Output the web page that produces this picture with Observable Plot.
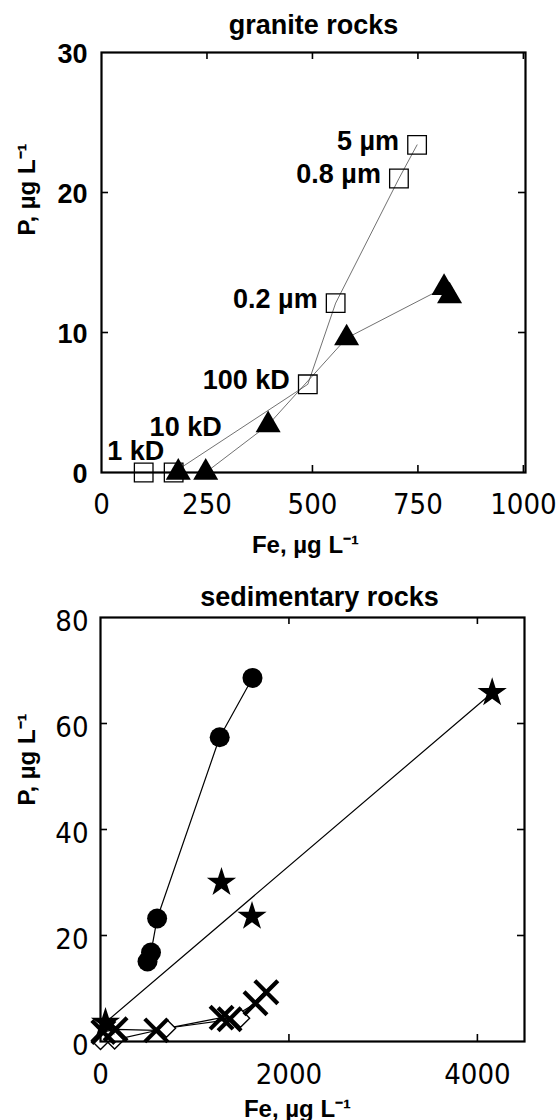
<!DOCTYPE html>
<html><head><meta charset="utf-8">
<script src="https://cdn.jsdelivr.net/npm/d3@7"></script>
<script src="https://cdn.jsdelivr.net/npm/@observablehq/plot@0.6"></script>
<style>
body{margin:0;background:#fff;}
#c{position:relative;width:560px;height:1120px;background:#fff;}
#c svg{position:absolute;left:0;}
</style></head><body><div id="c"></div>
<script>
// ---------- granite rocks ----------
const graniteSizeLabels = ["1 kD", "10 kD", "100 kD", "0.2 µm", "0.8 µm", "5 µm"];
const graniteSquareFe = [100, 171, 489, 555, 705, 748];
const graniteSquareP = [0, 0, 6.3, 12.1, 21.0, 23.4];
const graniteTriangleFe = [182, 247, 395, 581, 812, 825];
const graniteTriangleP = [0, 0, 3.4, 9.6, 13.2, 12.6];
const graniteXTicks = [0, 250, 500, 750, 1000];
const graniteYTicks = [0, 10, 20, 30];

// ---------- sedimentary rocks ----------
const sedCircleFe = [499, 536, 601, 1265, 1613];
const sedCircleP = [15.1, 16.8, 23.2, 57.4, 68.6];
const sedStarFe = [53, 1284, 1608, 4157];
const sedStarP = [3.6, 30.0, 23.6, 65.8];
const sedCrossFe = [30, 160, 592, 1285, 1370, 1645, 1760];
const sedCrossP = [1.8, 2.3, 2.1, 4.5, 4.2, 7.2, 9.3];
const sedDiamondFe = [0, 150, 700, 1486];
const sedDiamondP = [0.2, 0.3, 2.5, 4.4];
const sedXTicks = [0, 2000, 4000];
const sedYTicks = [0, 20, 40, 60, 80];

const titles = ["granite rocks", "sedimentary rocks"];
const xLabel = "Fe, µg L\u207B\u00B9";
const yLabel = "P, µg L\u207B\u00B9";

const BOLD = "Liberation Sans, Arial, Helvetica, sans-serif";
const THIN = "DejaVu Sans Condensed, DejaVu Sans, Verdana, sans-serif";
const W = 560, H = 560;

const pts = (xs, ys, extra = {}) => xs.map((Fe, i) => ({Fe, P: ys[i], i, ...extra}));

function frameTicks(xd, yd, xt, yt, w, h, len = 7) {
  const kx = (xd[1] - xd[0]) / w * len;
  const ky = (yd[1] - yd[0]) / h * len;
  const xi = xt.filter(v => v > xd[0] && v < xd[1]);
  const yi = yt.filter(v => v > yd[0] && v < yd[1]);
  const s = {stroke: "black", strokeWidth: 1.6};
  return [
    Plot.ruleX(xi, {x: d => d, y1: yd[0], y2: yd[0] + ky, ...s}),
    Plot.ruleX(xi, {x: d => d, y1: yd[1], y2: yd[1] - ky, ...s}),
    Plot.ruleY(yi, {y: d => d, x1: xd[0], x2: xd[0] + kx, ...s}),
    Plot.ruleY(yi, {y: d => d, x1: xd[1], x2: xd[1] - kx, ...s})
  ];
}

// ---------- top chart ----------
const gM = {top: 52, right: 35, bottom: 88, left: 101};
const gXd = [0, 1005], gYd = [0, 30];
const gw = W - gM.left - gM.right, gh = H - gM.top - gM.bottom;
const squares = graniteSizeLabels.map((label, i) => ({label, Fe: graniteSquareFe[i], P: graniteSquareP[i], i}));
const triangles = pts(graniteTriangleFe, graniteTriangleP);

const topChart = Plot.plot({
  width: W, height: H,
  marginTop: gM.top, marginRight: gM.right, marginBottom: gM.bottom, marginLeft: gM.left,
  x: {domain: gXd, axis: null},
  y: {domain: gYd, axis: null},
  style: {background: "white", overflow: "visible"},
  marks: [
    Plot.line(squares, {x: "Fe", y: "P", stroke: "#333", strokeWidth: 0.7}),
    Plot.line(triangles, {x: "Fe", y: "P", stroke: "#333", strokeWidth: 0.7}),
    Plot.dot(squares, {x: "Fe", y: "P", symbol: "square", r: 10.5, stroke: "black", strokeWidth: 1.3, fill: "none"}),
    Plot.dot(triangles, {x: "Fe", y: "P", symbol: "triangle", r: 9.3, fill: "black", stroke: "none"}),
    Plot.frame({stroke: "black", strokeWidth: 2.2}),
    ...frameTicks(gXd, gYd, graniteXTicks, graniteYTicks, gw, gh),
    Plot.text(squares, {filter: d => d.i >= 2, x: "Fe", y: "P", text: "label", textAnchor: "end", dx: -18, dy: -4,
      fontFamily: BOLD, fontWeight: "bold", fontSize: 27, fill: "black"}),
    Plot.text(squares, {filter: d => d.i === 0, x: "Fe", y: "P", text: "label", textAnchor: "middle", dx: -8, dy: -21,
      fontFamily: BOLD, fontWeight: "bold", fontSize: 27, fill: "black"}),
    Plot.text(squares, {filter: d => d.i === 1, x: "Fe", y: "P", text: "label", textAnchor: "middle", dx: 12, dy: -45,
      fontFamily: BOLD, fontWeight: "bold", fontSize: 27, fill: "black"}),
    Plot.text(graniteXTicks, {x: d => d, text: d => String(d), frameAnchor: "bottom", lineAnchor: "top", dy: 21,
      fontFamily: THIN, fontSize: 29, fill: "black"}),
    Plot.text(graniteYTicks, {y: d => d, text: d => String(d), frameAnchor: "left", textAnchor: "end", dx: -14, dy: 2,
      fontFamily: BOLD, fontWeight: "bold", fontSize: 27, fill: "black"}),
    Plot.text([titles[0]], {text: d => d, frameAnchor: "top", lineAnchor: "bottom", dy: -19,
      fontFamily: BOLD, fontWeight: "bold", fontSize: 27, fill: "black"}),
    Plot.text([xLabel], {text: d => d, frameAnchor: "bottom", lineAnchor: "bottom", dy: 80, dx: -8,
      fontFamily: BOLD, fontWeight: "bold", fontSize: 24, fill: "black"}),
    Plot.text([yLabel], {text: d => d, frameAnchor: "left", rotate: -90, dx: -74, dy: -27,
      fontFamily: BOLD, fontWeight: "bold", fontSize: 24, fill: "black"})
  ]
});

// ---------- bottom chart ----------
const sM = {top: 57, right: 36, bottom: 79, left: 100};
const sXd = [0, 4500], sYd = [0, 80];
const sw = W - sM.left - sM.right, sh = H - sM.top - sM.bottom;
const circles = pts(sedCircleFe, sedCircleP);
const stars = pts(sedStarFe, sedStarP);
const crosses = pts(sedCrossFe, sedCrossP);
const diamonds = pts(sedDiamondFe, sedDiamondP);
const starTrend = [d3.least(stars, d => d.Fe), d3.greatest(stars, d => d.Fe)];

const bottomChart = Plot.plot({
  width: W, height: H,
  marginTop: sM.top, marginRight: sM.right, marginBottom: sM.bottom, marginLeft: sM.left,
  x: {domain: sXd, axis: null},
  y: {domain: sYd, axis: null},
  style: {background: "white", overflow: "visible"},
  marks: [
    Plot.line(circles, {x: "Fe", y: "P", stroke: "black", strokeWidth: 1.2}),
    Plot.line(starTrend, {x: "Fe", y: "P", stroke: "black", strokeWidth: 1.2}),
    Plot.line(diamonds, {x: "Fe", y: "P", stroke: "black", strokeWidth: 1.2}),
    Plot.line(crosses, {x: "Fe", y: "P", stroke: "black", strokeWidth: 1.2}),
    Plot.dot(diamonds, {x: "Fe", y: "P", symbol: "diamond2", r: 8.2, stroke: "black", strokeWidth: 1.4, fill: "white"}),
    Plot.dot(crosses, {x: "Fe", y: "P", symbol: "times", r: 10.5, stroke: "black", strokeWidth: 4.2}),
    Plot.dot(circles, {x: "Fe", y: "P", symbol: "circle", r: 10, fill: "black", stroke: "none"}),
    Plot.dot(stars, {x: "Fe", y: "P", symbol: "star", r: 9.2, fill: "black", stroke: "none"}),
    Plot.frame({stroke: "black", strokeWidth: 2.2}),
    ...frameTicks(sXd, sYd, sedXTicks, sedYTicks, sw, sh),
    Plot.text(sedXTicks, {x: d => d, text: d => String(d), frameAnchor: "bottom", lineAnchor: "top", dy: 22,
      fontFamily: THIN, fontSize: 29, fill: "black"}),
    Plot.text(sedYTicks, {y: d => d, text: d => String(d), frameAnchor: "left", textAnchor: "end", dx: -12, dy: 4,
      fontFamily: THIN, fontSize: 29, fill: "black"}),
    Plot.text([titles[1]], {text: d => d, frameAnchor: "top", lineAnchor: "bottom", dy: -12, dx: 7,
      fontFamily: BOLD, fontWeight: "bold", fontSize: 27, fill: "black"}),
    Plot.text([xLabel], {text: d => d, frameAnchor: "bottom", lineAnchor: "bottom", dy: 75, dx: -15,
      fontFamily: BOLD, fontWeight: "bold", fontSize: 24, fill: "black"}),
    Plot.text([yLabel], {text: d => d, frameAnchor: "left", rotate: -90, dx: -73, dy: -24,
      fontFamily: BOLD, fontWeight: "bold", fontSize: 24, fill: "black"})
  ]
});

const c = document.getElementById("c");
topChart.style.top = "0px";
bottomChart.style.top = "560px";
c.appendChild(topChart);
c.appendChild(bottomChart);
</script></body></html>
